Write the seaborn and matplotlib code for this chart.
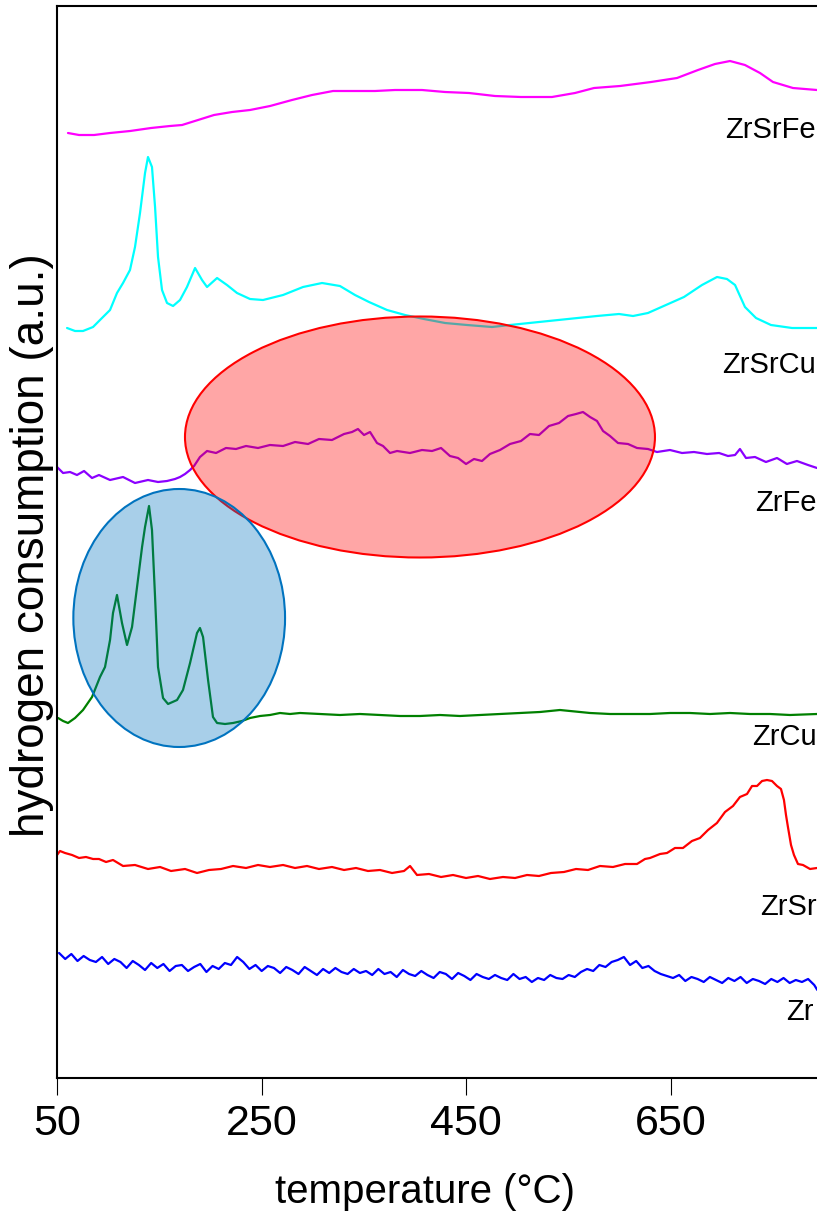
import matplotlib
matplotlib.use("Agg")
import matplotlib.pyplot as plt
from matplotlib.patches import Ellipse
from matplotlib import font_manager
import pandas as pd
import seaborn as sns

# ---------------------------------------------------------------------------
# H2-TPR profiles (temperature in °C, stacked signal in arbitrary units)
# ---------------------------------------------------------------------------
zrsrfe_temp = [60.7, 71.5, 86.2, 101.8, 121.4, 141.9, 160.4, 172.2, 187.8, 203.4,
               221.0, 238.6, 258.2, 279.6, 299.2, 319.7, 341.2, 360.8, 380.3, 406.7,
               429.2, 452.6, 478.0, 503.4, 533.7, 556.2, 574.8, 600.2, 630.5, 655.9,
               676.4, 693.0, 707.7, 722.3, 737.0, 749.7, 769.2, 792.7]
zrsrfe_signal = [945, 943, 943, 945, 947, 950, 952, 953, 958, 963,
                 966, 968, 972, 978, 983, 987, 987, 987, 988, 988,
                 986, 985, 982, 981, 981, 985, 990, 992, 996, 1000,
                 1008, 1014, 1017, 1013, 1005, 996, 990, 988]

zrsrcu_temp = [59.8, 67.6, 75.4, 85.2, 92.0, 101.8, 108.6, 114.5, 121.3, 126.2,
               131.1, 136.0, 138.9, 142.8, 145.8, 148.7, 152.6, 157.5, 163.4, 170.2,
               177.0, 184.9, 191.7, 196.6, 206.4, 216.1, 225.9, 238.6, 251.3, 270.9,
               290.4, 309.0, 326.5, 341.2, 354.9, 372.5, 390.1, 408.6, 429.2, 450.7,
               475.1, 492.7, 521.0, 549.4, 577.7, 599.2, 612.9, 627.5, 645.1, 662.7,
               680.3, 695.0, 704.7, 712.6, 722.3, 733.1, 747.7, 768.3, 792.7]
zrsrcu_signal = [750, 747, 747, 751, 758, 768, 785, 795, 808, 831,
                 865, 905, 921, 911, 871, 821, 788, 775, 772, 778,
                 791, 810, 798, 791, 800, 793, 785, 779, 778, 783,
                 791, 795, 792, 783, 776, 768, 763, 759, 755, 753,
                 751, 753, 756, 759, 762, 764, 762, 765, 773, 781,
                 793, 801, 799, 793, 771, 760, 753, 750, 750]

zrfe_temp = [50.0, 55.9, 62.7, 69.5, 76.4, 84.2, 91.0, 101.8, 114.5, 126.2,
             138.9, 148.7, 157.5, 165.3, 170.2, 175.1, 180.0, 183.9, 189.7, 196.6,
             205.4, 215.1, 224.9, 234.7, 246.4, 258.1, 270.9, 282.6, 295.3, 306.0,
             318.7, 330.5, 338.3, 344.1, 350.0, 355.9, 362.7, 368.6, 375.4, 382.3,
             394.9, 406.7, 416.5, 425.3, 434.0, 441.9, 449.7, 457.5, 465.3, 473.1,
             482.9, 492.7, 503.4, 512.2, 521.0, 530.8, 540.6, 549.4, 557.2, 564.0,
             570.9, 577.7, 583.6, 590.4, 598.2, 608.0, 616.8, 627.5, 636.3, 649.0,
             660.8, 672.5, 685.2, 697.0, 705.7, 712.6, 717.4, 723.3, 732.1, 742.8,
             753.6, 763.4, 773.1, 783.9, 792.7]
zrfe_signal = [611, 605, 606, 603, 607, 600, 603, 598, 601, 595,
               598, 596, 597, 599, 601, 604, 608, 612, 621, 627,
               625, 630, 629, 632, 630, 633, 632, 636, 634, 639,
               638, 644, 646, 649, 643, 646, 635, 632, 625, 627,
               625, 628, 627, 630, 622, 620, 614, 619, 617, 624,
               628, 634, 637, 644, 643, 652, 655, 662, 664, 666,
               661, 657, 647, 642, 635, 634, 630, 629, 626, 628,
               625, 626, 624, 625, 622, 623, 629, 620, 621, 616,
               620, 614, 617, 613, 610]

zrcu_temp = [51.0, 55.9, 60.7, 67.6, 75.4, 84.2, 92.0, 96.9, 101.8, 104.7,
             108.6, 113.5, 118.4, 123.3, 128.2, 133.1, 136.0, 139.9, 142.8, 145.8,
             148.7, 153.6, 158.5, 167.3, 173.1, 180.0, 186.8, 189.7, 192.7, 197.6,
             202.4, 206.4, 214.2, 222.0, 230.8, 238.6, 248.4, 258.1, 267.9, 277.7,
             287.5, 307.0, 326.5, 346.1, 365.6, 385.2, 404.7, 424.3, 443.8, 463.4,
             482.9, 502.5, 522.0, 541.5, 551.3, 570.9, 590.4, 610.0, 629.5, 649.0,
             668.6, 688.1, 707.7, 727.2, 746.8, 766.3, 792.7]
zrcu_signal = [360, 357, 355, 360, 368, 381, 401, 411, 438, 465,
               483, 455, 433, 451, 491, 531, 551, 572, 548, 481,
               411, 380, 374, 378, 388, 415, 445, 450, 441, 398,
               361, 355, 354, 355, 357, 360, 362, 363, 365, 364,
               365, 364, 363, 364, 363, 362, 362, 363, 362, 363,
               364, 365, 366, 368, 367, 365, 364, 364, 364, 365,
               365, 364, 365, 364, 364, 363, 364]

zrsr_temp = [50.0, 52.9, 57.8, 64.7, 71.5, 78.3, 85.2, 91.0, 97.9, 104.7,
             114.5, 126.2, 138.9, 150.7, 161.4, 175.1, 186.8, 198.5, 210.3, 222.0,
             234.7, 246.4, 258.1, 270.9, 282.6, 294.3, 306.0, 318.7, 330.5, 342.2,
             353.9, 365.6, 377.4, 389.1, 395.0, 401.8, 413.5, 425.3, 437.0, 449.7,
             461.4, 473.1, 485.8, 497.6, 509.3, 521.0, 532.7, 545.4, 557.2, 568.9,
             580.6, 593.3, 605.1, 616.8, 624.6, 629.5, 639.3, 646.1, 653.9, 661.7,
             670.5, 678.3, 686.2, 694.9, 702.8, 710.6, 717.4, 724.3, 729.2, 734.1,
             739.0, 743.8, 748.7, 753.6, 757.5, 760.4, 762.4, 764.3, 767.3, 770.2,
             774.1, 779.0, 785.9, 792.7]
zrsr_signal = [223, 227, 225, 223, 220, 221, 219, 219, 216, 218,
               212, 213, 209, 211, 207, 209, 205, 208, 209, 212,
               210, 213, 211, 213, 210, 212, 209, 211, 208, 210,
               207, 208, 205, 207, 212, 203, 204, 201, 203, 200,
               202, 199, 201, 200, 203, 202, 205, 206, 209, 208,
               212, 211, 214, 214, 219, 220, 224, 225, 230, 230,
               237, 240, 248, 255, 266, 272, 281, 284, 292, 292,
               297, 298, 297, 292, 289, 278, 263, 251, 233, 223,
               214, 213, 209, 210]

zr_temp = [52, 58, 64, 70, 76, 82, 88, 94, 100, 106,
           112, 118, 124, 130, 136, 142, 148, 154, 160, 166,
           172, 178, 184, 190, 196, 202, 208, 214, 220, 226,
           232, 238, 244, 250, 256, 262, 268, 274, 280, 286,
           292, 298, 304, 310, 316, 322, 328, 334, 340, 346,
           352, 358, 364, 370, 376, 382, 388, 394, 400, 406,
           412, 418, 424, 430, 436, 442, 448, 454, 460, 466,
           472, 478, 484, 490, 496, 502, 508, 514, 520, 526,
           532, 538, 544, 550, 556, 562, 568, 574, 580, 586,
           592, 598, 604, 610, 616, 622, 628, 634, 640, 646,
           652, 658, 664, 670, 676, 682, 688, 694, 700, 706,
           712, 718, 724, 730, 736, 742, 748, 754, 760, 766,
           772, 778, 784, 790, 793]
zr_signal = [125, 119, 124, 117, 122, 118, 116, 121, 114, 119,
             116, 110, 117, 113, 108, 115, 110, 114, 107, 112,
             113, 107, 111, 114, 106, 112, 109, 115, 113, 121,
             116, 109, 113, 107, 112, 110, 105, 111, 108, 104,
             111, 107, 103, 109, 105, 110, 106, 104, 109, 105,
             107, 103, 109, 104, 106, 101, 108, 104, 102, 107,
             103, 100, 106, 104, 99, 105, 102, 98, 104, 101,
             99, 103, 100, 98, 104, 99, 101, 96, 100, 98,
             103, 100, 99, 103, 101, 106, 109, 107, 113, 111,
             116, 118, 121, 113, 117, 110, 112, 107, 104, 102,
             100, 103, 97, 101, 99, 96, 101, 98, 95, 100,
             97, 101, 95, 99, 97, 94, 99, 96, 100, 95,
             98, 96, 99, 93, 88]

samples = ["ZrSrFe", "ZrSrCu", "ZrFe", "ZrCu", "ZrSr", "Zr"]
sample_colors = ["#FF00FF", "#00FFFF", "#8B00FF", "#008000", "#FF0000", "#0000FF"]
temperature_ticks = [50, 250, 450, 650]

series = [
    ("ZrSrFe", zrsrfe_temp, zrsrfe_signal),
    ("ZrSrCu", zrsrcu_temp, zrsrcu_signal),
    ("ZrFe", zrfe_temp, zrfe_signal),
    ("ZrCu", zrcu_temp, zrcu_signal),
    ("ZrSr", zrsr_temp, zrsr_signal),
    ("Zr", zr_temp, zr_signal),
]
df = pd.concat(
    [pd.DataFrame({"temperature": t, "signal": s, "sample": n}) for n, t, s in series],
    ignore_index=True,
)

# ---------------------------------------------------------------------------
# Style and fonts
# ---------------------------------------------------------------------------
sns.set_style("white")
installed = {f.name for f in font_manager.fontManager.ttflist}
main_font = "Liberation Sans" if "Liberation Sans" in installed else "DejaVu Sans"
narrow_font = "Liberation Sans Narrow" if "Liberation Sans Narrow" in installed else main_font
label_size = 23 if narrow_font != main_font else 21
plt.rcParams["font.family"] = [main_font, "DejaVu Sans"]

fig = plt.figure(figsize=(8.17, 12.13), dpi=100)
ax = fig.add_axes([0.0698, 0.1113, 0.9302, 0.88375])

sns.lineplot(
    data=df, x="temperature", y="signal", hue="sample",
    hue_order=samples, palette=dict(zip(samples, sample_colors)),
    estimator=None, sort=False, legend=False, linewidth=1.6, ax=ax,
)

# Highlighted reduction regions
ax.add_patch(Ellipse((404.7, 641), width=459.3, height=241,
                     facecolor=(1.0, 0.0, 0.0, 0.35), edgecolor="#FF0000",
                     linewidth=1.5, zorder=5))
ax.add_patch(Ellipse((169.4, 460), width=206.9, height=258,
                     facecolor=(0.0, 0.45, 0.75, 0.34), edgecolor=(0.0, 0.45, 0.75),
                     linewidth=1.5, zorder=5))

# Sample names at the right end of each trace
label_pos = {
    "ZrSrFe": (791.5, 940),
    "ZrSrCu": (791.5, 705),
    "ZrFe": (792.7, 567),
    "ZrCu": (792.7, 333),
    "ZrSr": (792.7, 163),
    "Zr": (789.5, 58),
}
for name in samples:
    x, y = label_pos[name]
    ax.text(x, y, name, ha="right", va="baseline", fontsize=label_size,
            family=[narrow_font, "DejaVu Sans"], color="black",
            clip_on=False, zorder=6)

ax.set_xlim(50, 792.7)
ax.set_ylim(0, 1072)
ax.set_xticks(temperature_ticks)
ax.set_xticklabels([str(v) for v in temperature_ticks])
ax.set_yticks([])
ax.tick_params(axis="x", direction="out", length=12, width=0.8, pad=7,
               labelsize=31, bottom=True, colors="black")

for side in ("left", "bottom", "top"):
    ax.spines[side].set_visible(True)
    ax.spines[side].set_color("black")
    ax.spines[side].set_linewidth(1.5)
ax.spines["right"].set_visible(False)

ax.set_xlabel("temperature (°C)", fontsize=29, color="black")
ax.xaxis.set_label_coords(0.484, -0.1063)
ax.xaxis.label.set_va("center")
ax.set_ylabel("hydrogen consumption (a.u.)", fontsize=33, color="black")
ax.yaxis.set_label_coords(-0.0329, 0.497)
ax.yaxis.label.set_va("center")

fig.savefig("out.png", dpi=100, facecolor="white")
